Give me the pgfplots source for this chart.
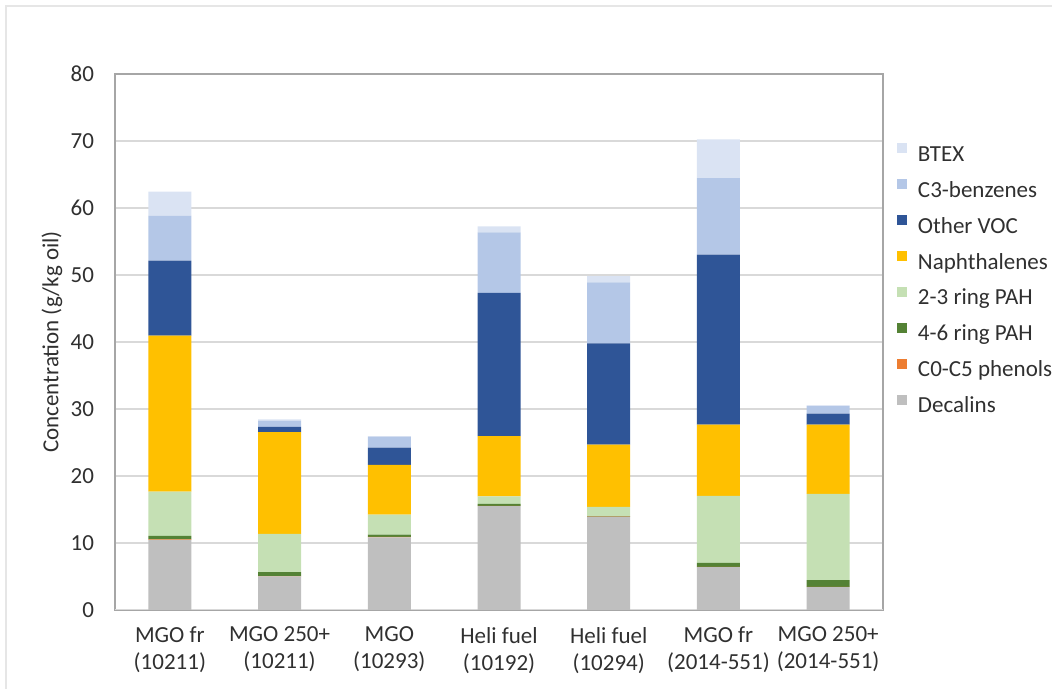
\documentclass[border=0pt]{standalone}
\usepackage{fontspec}
\setmainfont{Carlito}
\usepackage{pgfplots}
\pgfplotsset{compat=1.18}
\usepackage{pgfplotstable}

\definecolor{btex}{HTML}{DAE3F3}
\definecolor{cthree}{HTML}{B4C7E7}
\definecolor{ovoc}{HTML}{2F5597}
\definecolor{naph}{HTML}{FFC000}
\definecolor{pahlo}{HTML}{C5E0B4}
\definecolor{pahhi}{HTML}{548235}
\definecolor{phen}{HTML}{ED7D31}
\definecolor{decal}{HTML}{BFBFBF}
\definecolor{gridc}{HTML}{D9D9D9}
\definecolor{boxc}{HTML}{A6A6A6}
\definecolor{txt}{HTML}{303030}
\definecolor{framec}{HTML}{E6E6E6}

% concentrations in g/kg oil, stacked bottom to top
\pgfplotstableread{
x Dec  Phen PAHhi PAHlo Naph OVOC Cthree BTEX
0 10.45 0.10 0.50 6.6  23.3 11.2  6.7  3.6
1 5.00  0.05 0.60 5.7  15.2 0.8   0.9  0.2
2 10.85 0.05 0.35 3.0  7.4  2.6   1.6  0.1
3 15.50 0.05 0.30 1.1  9.0  21.4  9.0  0.9
4 13.90 0.05 0.05 1.4  9.3  15.1  9.1  0.95
5 6.40  0.05 0.60 10.0 10.6 25.4  11.4 5.8
6 3.40  0.05 1.00 12.9 10.3 1.65  1.15 0.1
}\conc

\newcommand{\chartfont}{\fontsize{11.5}{13.5}\selectfont}

\begin{document}
\begin{tikzpicture}[font=\chartfont, text=txt]
\path[use as bounding box] (0,0) rectangle (526pt,344.5pt);
\draw[framec, line width=1pt] (3pt,0) -- (3pt,341.5pt) -- (526pt,341.5pt);
\begin{axis}[
  at={(57.5pt,39.5pt)}, anchor=south west,
  scale only axis, width=384pt, height=268pt,
  xmin=-0.5, xmax=6.5, ymin=0, ymax=80,
  ybar stacked, bar width=21.5pt,
  xtick={0,...,6},
  xticklabels={{MGO fr\\(10211)},{MGO 250+\\(10211)},{MGO\\(10293)},{Heli fuel\\(10192)},{Heli fuel\\(10294)},{MGO fr\\(2014-551)},{MGO 250+\\(2014-551)}},
  ytick={0,10,...,80},
  major tick length=0pt,
  /pgf/number format/assume math mode=true,
  tick label style={font=\chartfont, text=txt},
  xticklabel style={align=center, yshift=-5pt},
  yticklabel style={xshift=-7pt},
  ylabel={Concentration (g/kg oil)},
  every axis y label/.style={at={(axis description cs:-0.082,0.5)}, rotate=90, anchor=center, font=\chartfont, text=txt},
  ymajorgrids, grid style={gridc, line width=0.75pt},
  axis line style={boxc, line width=0.75pt},
  reverse legend,
  legend cell align=left,
  legend image code/.code={\fill[#1] (0pt,1.2pt) rectangle (5pt,6.2pt);},
  legend style={at={(axis description cs:1.0182,0.8705)}, anchor=north west,
    draw=none, fill=none, inner sep=0pt, outer sep=0pt,
    row sep=6.5pt, column sep=5.5pt, font=\chartfont, text=txt,
    nodes={inner sep=0pt, text height=8pt, text depth=2.5pt}},
]
\addplot[fill=decal, draw=none] table[x=x, y=Dec] {\conc};
\addplot[fill=phen, draw=none] table[x=x, y=Phen] {\conc};
\addplot[fill=pahhi, draw=none] table[x=x, y=PAHhi] {\conc};
\addplot[fill=pahlo, draw=none] table[x=x, y=PAHlo] {\conc};
\addplot[fill=naph, draw=none] table[x=x, y=Naph] {\conc};
\addplot[fill=ovoc, draw=none] table[x=x, y=OVOC] {\conc};
\addplot[fill=cthree, draw=none] table[x=x, y=Cthree] {\conc};
\addplot[fill=btex, draw=none] table[x=x, y=BTEX] {\conc};
\legend{Decalins, C0-C5 phenols, 4-6 ring PAH, 2-3 ring PAH, Naphthalenes, Other VOC, C3-benzenes, BTEX}
\draw[gridc, line width=1.2pt] (rel axis cs:0,0) -- (rel axis cs:1,0);
\end{axis}
\end{tikzpicture}
\end{document}
